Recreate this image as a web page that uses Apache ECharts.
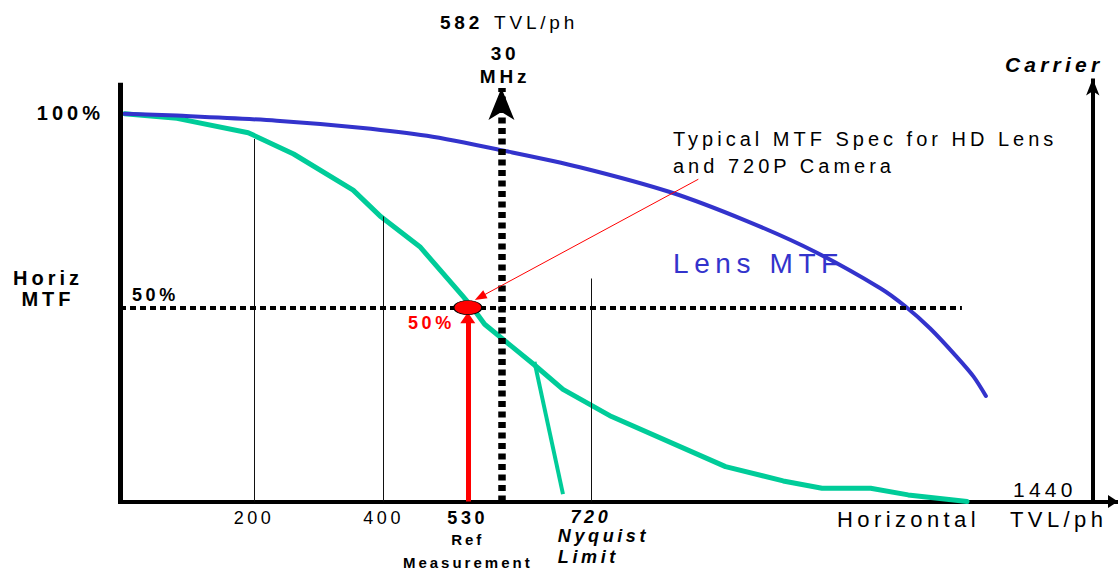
<!DOCTYPE html>
<html>
<head>
<meta charset="utf-8">
<script src="https://cdn.jsdelivr.net/npm/echarts@6/dist/echarts.min.js"></script>
<style>
html, body { margin: 0; padding: 0; background: #ffffff; }
#chart { width: 1118px; height: 569px; }
#chart text { letter-spacing: 0.2em; }
</style>
</head>
<body>
<div id="chart"></div>
<script>
// ---------- data (TVL/ph on x, MTF % on y) ----------
const tickTVL = [200, 400, 530, 720];
const tickNotes = { 530: ['Ref', 'Measurement'], 720: ['Nyquist', 'Limit'] };

const cameraTVL = [0, 81, 191, 261, 353, 396, 456, 523, 540, 556, 633, 677, 752, 928, 1017, 1077, 1152, 1210, 1301];
const cameraMTF = [100, 98.8, 95.1, 89.6, 80.3, 73.4, 65.7, 52.8, 49.4, 45.7, 35.2, 28.9, 21.9, 9.0, 5.3, 3.4, 3.4, 1.7, 0];

const cutoffTVL = [633, 677];
const cutoffMTF = [36.0, 1.9];

const lensTVL = [0, 81, 235, 364, 467, 590, 703, 842, 961, 1066, 1167, 1205, 1244, 1285, 1311, 1330];
const lensMTF = [100, 99.5, 98.2, 96.4, 94.3, 90.3, 86.2, 79.8, 72.3, 64.4, 55.0, 50.4, 44.6, 37.3, 32.2, 27.2];

const guideTVL = [200, 400, 720];
const guideTopMTF = [93.5, 73.5, 57.5];

const refTVL = 530;
const refMTF = 50;
const refArrowHeadMTF = 47.4;

const carrierTVL = 582;
const carrierArrowTipMTF = 106.6;

const halfMTF = 50;
const halfLineEndTVL = 1293;

const noteFrom = [886, 83.1];
const noteTo = [549, 52.7];

const axisTVLMin = -7;
const axisTVLMax = 1534;
const axisMTFMax = 109.2;
const frameTopMTF = 107.3;
const carrierAxisTVL = 1495;
const carrierAxisTipMTF = 109.1;
const maxTVLLabel = 1440;

// ---------- helpers ----------
const zip = (xs, ys) => xs.map((x, i) => [x, ys[i]]);
const FF = "'Liberation Sans', Arial, sans-serif";
const font = (size, weight, style) => `${style || 'normal'} ${weight || 'normal'} ${size}px ${FF}`;

function txt(x, y, text, f, opts) {
  opts = opts || {};
  return {
    type: 'text', x: x, y: y, silent: true,
    style: {
      text: text, font: f, fill: opts.fill || '#000',
      align: opts.align || 'left', verticalAlign: 'middle',
      textAlign: opts.align || 'left', textVerticalAlign: 'middle',
      lineHeight: opts.lineHeight
    }
  };
}

function helper(lineStyle, pairs) {
  return {
    type: 'line', data: [], clip: false, silent: true,
    markLine: {
      silent: true, animation: false, symbol: ['none', 'none'],
      label: { show: false }, emphasis: { disabled: true },
      lineStyle: lineStyle, data: pairs
    }
  };
}

const chart = echarts.init(document.getElementById('chart'), null, { renderer: 'svg' });

const option = {
  animation: false,
  backgroundColor: '#ffffff',
  grid: { left: 120, right: 0, top: 78, bottom: 67.5, containLabel: false, outerBoundsMode: 'none' },
  xAxis: {
    type: 'value', min: axisTVLMin, max: axisTVLMax,
    splitLine: { show: false }, axisTick: { show: false },
    axisLine: {
      show: true, onZero: false,
      lineStyle: { color: '#000', width: 4 },
      symbol: ['none', 'triangle'], symbolSize: [13, 10], symbolOffset: [0, -5]
    },
    axisLabel: {
      customValues: tickTVL, margin: 6, color: '#000', fontFamily: FF,
      formatter: function (v) {
        const main = v === 530 ? `{b|${v}}` : (v === 720 ? `{bi|${v}}` : `{n|${v}}`);
        const notes = tickNotes[v];
        if (!notes) return main;
        const st = v === 720 ? 'si' : 's';
        return [main].concat(notes.map(n => `{${st}|${n}}`)).join('\n');
      },
      rich: {
        n: { fontSize: 18, fontFamily: FF, color: '#000', lineHeight: 20, align: 'center' },
        b: { fontSize: 18, fontFamily: FF, fontWeight: 'bold', color: '#000', lineHeight: 20, align: 'center' },
        bi: { fontSize: 18, fontFamily: FF, fontWeight: 'bold', fontStyle: 'italic', color: '#000', lineHeight: 18, align: 'center' },
        s: { fontSize: 15, fontFamily: FF, fontWeight: 'bold', color: '#000', lineHeight: 23, align: 'center' },
        si: { fontSize: 18, fontFamily: FF, fontWeight: 'bold', fontStyle: 'italic', color: '#000', lineHeight: 21, align: 'left' }
      }
    }
  },
  yAxis: {
    type: 'value', min: 0, max: axisMTFMax,
    axisLine: { show: false }, axisTick: { show: false },
    axisLabel: { show: false }, splitLine: { show: false }
  },
  series: [
    // thin guide verticals
    helper({ color: '#111', width: 1, type: 'solid' },
      guideTVL.map((t, i) => [{ coord: [t, 0] }, { coord: [t, guideTopMTF[i]] }])),
    // Camera (green) MTF
    {
      type: 'line', name: 'Camera MTF', data: zip(cameraTVL, cameraMTF),
      symbol: 'none', silent: true, clip: false, z: 3,
      lineStyle: { color: '#00cc99', width: 5, cap: 'round', join: 'round' }
    },
    {
      type: 'line', name: 'Cutoff', data: zip(cutoffTVL, cutoffMTF),
      symbol: 'none', silent: true, clip: false, z: 3,
      lineStyle: { color: '#00cc99', width: 4, cap: 'butt' }
    },
    // Lens MTF (blue)
    {
      type: 'line', name: 'Lens MTF', data: zip(lensTVL, lensMTF),
      symbol: 'none', smooth: 0.3, silent: true, clip: false, z: 3,
      lineStyle: { color: '#3333cc', width: 4, cap: 'round' }
    },
    // frame: left axis
    helper({ color: '#000', width: 5, type: 'solid', cap: 'square' },
      [[{ coord: [axisTVLMin, 0] }, { coord: [axisTVLMin, frameTopMTF] }]]),
    // carrier axis with arrow
    helper({ color: '#000', width: 4, type: 'solid' },
      [[{ coord: [carrierAxisTVL, 0], symbol: 'none' },
        { coord: [carrierAxisTVL, carrierAxisTipMTF], symbol: 'arrow', symbolSize: [10, 17] }]]),
    // 50% dotted line
    helper({ color: '#000', width: 4, type: [6, 4] },
      [[{ coord: [axisTVLMin, halfMTF] }, { coord: [halfLineEndTVL, halfMTF] }]]),
    // 582 TVL / 30 MHz dotted line with arrow
    helper({ color: '#000', width: 7.5, type: [6, 4.5] },
      [[{ coord: [carrierTVL, 0], symbol: 'none' },
        { coord: [carrierTVL, carrierArrowTipMTF], symbol: 'arrow', symbolSize: [19.5, 32] }]]),
    // red reference arrow shaft
    helper({ color: '#ff0000', width: 5, type: 'solid' },
      [[{ coord: [refTVL, 0] }, { coord: [refTVL, refArrowHeadMTF] }]]),
    // red annotation pointer
    helper({ color: '#ff0000', width: 1, type: 'solid' },
      [[{ coord: noteFrom, symbol: 'none' },
        { coord: noteTo, symbol: 'triangle', symbolSize: [9, 12] }]]),
    // red arrow head
    {
      type: 'scatter', data: [[refTVL, refArrowHeadMTF]], symbol: 'triangle', symbolSize: [15, 11],
      silent: true, z: 9,
      itemStyle: { color: '#ff0000', opacity: 1 }
    },
    // red ellipse at 50%
    {
      type: 'scatter', data: [[refTVL, refMTF]], symbol: 'circle', symbolSize: [28, 14],
      silent: true, z: 10,
      itemStyle: { color: '#ff0000', borderColor: '#000', borderWidth: 1, opacity: 1 }
    }
  ],
  graphic: [
    txt(440, 22.5, String(carrierTVL), font(19, 'bold')),
    txt(494, 22.5, 'TVL/ph', font(19)),
    txt(505, 64.5, '30\nMHz', font(19, 'bold'), { align: 'center', lineHeight: 23 }),
    txt(104, 113, '100%', font(20, 'bold'), { align: 'right' }),
    txt(48, 288.5, 'Horiz\nMTF', font(20, 'bold'), { align: 'center', lineHeight: 21 }),
    txt(132, 295, halfMTF + '%', font(18, 'bold')),
    txt(408, 323, refMTF + '%', font(18, 'bold'), { fill: '#ff0000' }),
    txt(673, 152.5, 'Typical MTF Spec for HD Lens\nand 720P Camera', font(20), { lineHeight: 27 }),
    txt(673, 263.5, 'Lens MTF', font(28), { fill: '#3333cc' }),
    txt(837, 519.5, 'Horizontal', font(22)),
    txt(1013, 489, String(maxTVLLabel), font(21)),
    txt(1010, 519.5, 'TVL/ph', font(22)),
    txt(1005, 64, 'Carrier', font(21, 'bold', 'italic'))
  ]
};

chart.setOption(option);
</script>
</body>
</html>
